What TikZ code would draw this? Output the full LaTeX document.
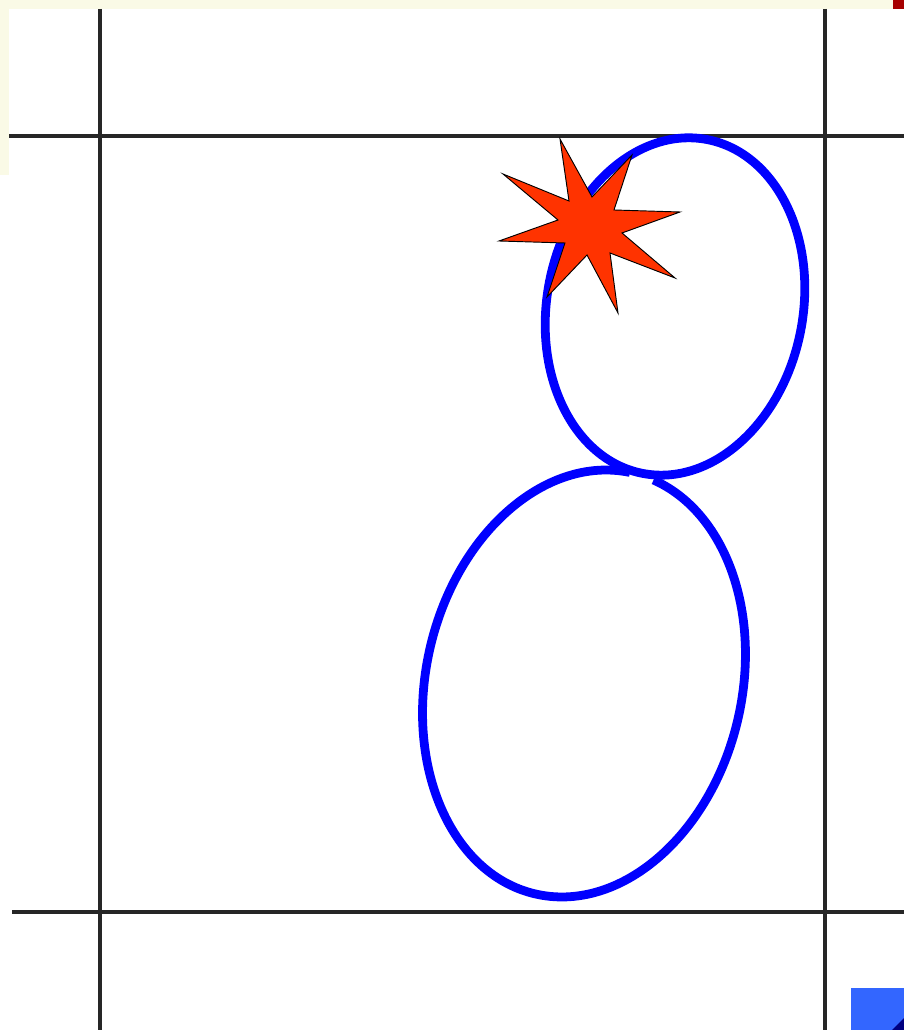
\documentclass[tikz,border=0pt]{standalone}
\usepackage{xcolor}
\usepackage{tikz}
\definecolor{burstred}{HTML}{FF3300}
\definecolor{paper}{HTML}{FAFAE6}
\definecolor{tabblue}{HTML}{3366FF}

\begin{document}
\begin{tikzpicture}[x=0.3mm, y=0.3mm,
  gridline/.style={line width=3.2pt, black!85},
  loop/.style={line width=7.5pt, blue},
  burst/.style={draw=black, line width=0.8pt, fill=burstred, line join=miter},
  patch/.style={draw=none}
]
\useasboundingbox (0,0) rectangle (904,1030);

\fill[paper] (0,1021) rectangle (904,1030);
\fill[paper] (0,855) rectangle (9,1030);
\fill[red!65!black] (893,1021) rectangle (904,1030);
\fill[tabblue] (851,0) rectangle (904,42);
\fill[blue!50!black] (892,0) -- (904,0) -- (904,12) -- cycle;

\coordinate (topL) at (9,894);
\coordinate (topR) at (904,894);
\coordinate (botL) at (12,118);
\coordinate (botR) at (904,118);
\coordinate (leftT) at (100,1021);
\coordinate (leftB) at (100,0);
\coordinate (rightT) at (825,1021);
\coordinate (rightB) at (825,0);

\draw[gridline] (topL) -- (topR);
\draw[gridline] (botL) -- (botR);
\draw[gridline] (leftT) -- (leftB);
\draw[gridline] (rightT) -- (rightB);

\draw[loop, shift={(675,723.5)}, rotate=-11] (0,0) ellipse [x radius=128, y radius=170];
\draw[loop, shift={(584,346.5)}, rotate=-13] (91:158 and 216) arc [start angle=91, end angle=442, x radius=158, y radius=216];

\draw[burst] (560,891) -- (592,833) -- (632,875) -- (614,820) -- (680,818) -- (622,797)
  -- (675,752) -- (610,777) -- (618,717) -- (587,775) -- (547,733) -- (565,787)
  -- (499,789) -- (558,810) -- (503,856) -- (569,829) -- cycle;

\end{tikzpicture}
\end{document}
